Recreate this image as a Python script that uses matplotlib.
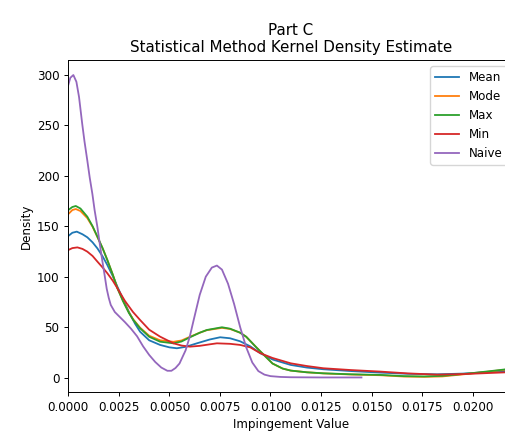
import matplotlib
matplotlib.use("Agg")
import matplotlib.pyplot as plt

# ---- data (x = impingement value, y = density) ----
naive_x = [0.0, 0.0001, 0.00025, 0.0004, 0.00053, 0.00069, 0.0008, 0.00094, 0.00106,
           0.00119, 0.0013, 0.00144, 0.00156, 0.00168, 0.0018, 0.0019, 0.002, 0.0021,
           0.0023, 0.0025, 0.0028, 0.0031, 0.0034, 0.0037, 0.004, 0.0043, 0.0046,
           0.0049, 0.0051, 0.0053, 0.0055, 0.0058, 0.006, 0.0062, 0.0065, 0.0068,
           0.0071, 0.00735, 0.0076, 0.0079, 0.0082, 0.0085, 0.0088, 0.0091, 0.0094,
           0.0097, 0.01, 0.0105, 0.011, 0.0125, 0.0145]
naive_y = [290, 297, 299.7, 293, 278, 251, 234, 215, 198,
           182, 166, 149, 132, 116, 101, 88, 79, 72,
           65, 61, 55, 48.5, 41, 31, 22.5, 15.5, 10,
           6.8, 6.8, 9.5, 14, 27, 40, 57, 82, 100,
           109, 111, 107, 93, 73, 50, 30, 15, 6.5,
           3, 1.5, 0.7, 0.4, 0.2, 0.2]

max_x = [0.0, 0.0002, 0.00037, 0.0006, 0.00094, 0.0012, 0.00144, 0.0017, 0.00193,
         0.0022, 0.00243, 0.0027, 0.003, 0.00322, 0.00355, 0.004, 0.00454, 0.0052,
         0.0056, 0.00602, 0.0065, 0.00685, 0.0076, 0.008, 0.0085, 0.0088, 0.0093,
         0.0097, 0.0101, 0.0106, 0.011, 0.0118, 0.01262, 0.014, 0.01543, 0.0166,
         0.0176, 0.0185, 0.0192, 0.01989, 0.0208, 0.02167, 0.0225]
max_y = [166, 169, 170, 167.5, 159.4, 150, 139.6, 128, 116.5,
         102, 88.5, 76, 64, 57, 48.9, 40.5, 35.6, 34,
         35.8, 40, 44.5, 47.2, 49.9, 48.5, 44.5, 40.5, 30,
         22, 14, 9, 7, 5.3, 4.3, 3.3, 2.7, 1.5,
         1.2, 1.8, 3, 4.3, 6.3, 8.3, 10]

mode_x = max_x
mode_y = [162, 166, 167, 165, 158, 149.5, 139.2, 128, 116.5,
          102, 88.5, 76.5, 64.5, 57.5, 49.5, 41.5, 37, 35.5,
          36.8, 40.5, 44.5, 47, 49.3, 48.2, 44.5, 40.5, 30,
          22, 14, 9, 7, 5.3, 4.2, 3.1, 2.4, 1.1,
          0.8, 1.2, 2.6, 4.0, 6.0, 8.0, 9.8]

mean_x = [0.0, 0.0002, 0.00042, 0.0007, 0.00094, 0.0012, 0.00144, 0.0017, 0.00193,
          0.0022, 0.00243, 0.0027, 0.003, 0.0033, 0.00355, 0.004, 0.00454, 0.005,
          0.00537, 0.0058, 0.00636, 0.007, 0.00751, 0.008, 0.0085, 0.009, 0.0095,
          0.0101, 0.011, 0.0118, 0.01262, 0.014, 0.01543, 0.0168, 0.01824, 0.0195,
          0.0207, 0.02167, 0.0225]
mean_y = [140.3, 143.5, 144.6, 142, 139, 134, 128, 120, 111.6,
          100.5, 90, 78, 65, 53.5, 45.5, 37, 32.4, 30,
          29.1, 30.5, 34, 37.8, 40, 39, 36, 31, 24.2,
          18, 12.6, 10, 8.3, 6.5, 5, 3.8, 3.3, 4,
          5.4, 6.6, 7.5]

min_x = [0.0, 0.0002, 0.00045, 0.0007, 0.00094, 0.0012, 0.00144, 0.0017, 0.00193,
         0.0022, 0.00243, 0.0028, 0.0032, 0.00355, 0.004, 0.00454, 0.0052, 0.0056,
         0.00602, 0.0065, 0.007, 0.00735, 0.008, 0.0085, 0.009, 0.0095, 0.0101,
         0.011, 0.0118, 0.01262, 0.014, 0.01543, 0.0168, 0.01824, 0.0195, 0.0207,
         0.02167, 0.0225]
min_y = [126.4, 128.3, 129, 127.5, 124.8, 120.5, 114.9, 109, 103.4,
         96, 88.5, 76, 65, 57.1, 47.5, 40.6, 34, 31.8,
         30.7, 31.5, 33, 34, 33.5, 32.4, 30, 24.2, 19.5,
         14.2, 11.5, 9.3, 7.5, 6, 4.2, 3, 3.5, 4.5,
         5.3, 6]

series = [("Mean", mean_x, mean_y, "#1f77b4"),
          ("Mode", mode_x, mode_y, "#ff7f0e"),
          ("Max", max_x, max_y, "#2ca02c"),
          ("Min", min_x, min_y, "#d62728"),
          ("Naive", naive_x, naive_y, "#9467bd")]

xticks = [0.0, 0.0025, 0.005, 0.0075, 0.01, 0.0125, 0.015, 0.0175, 0.02]
xtick_labels = ["0.0000", "0.0025", "0.0050", "0.0075", "0.0100", "0.0125",
                "0.0150", "0.0175", "0.0200"]
yticks = [0, 50, 100, 150, 200, 250, 300]

plt.rcParams["font.family"] = ["DejaVu Sans"]
plt.rcParams["font.size"] = 8.6

fig = plt.figure(figsize=(5.06, 4.34), dpi=100)
ax = fig.add_axes([0.135, 0.0968, 0.879, 0.7643])

for name, xs, ys, c in series:
    ax.plot(xs, ys, color=c, lw=1.3, label=name, solid_joinstyle="round")

ax.set_xlim(0, 0.0220)
ax.set_ylim(-14.2, 314.3)
ax.set_xticks(xticks)
ax.set_xticklabels(xtick_labels)
ax.set_yticks(yticks)
ax.tick_params(length=3, width=0.7, labelsize=8.6)
for s in ax.spines.values():
    s.set_linewidth(0.7)

ax.set_xlabel("Impingement Value", fontsize=8.6, labelpad=3)
ax.set_ylabel("Density", fontsize=8.6, labelpad=3)
ax.set_title("Part C\nStatistical Method Kernel Density Estimate", fontsize=10.9, pad=6)
ax.legend(loc="upper right", fontsize=8.6)

fig.savefig("out.png", dpi=100)
